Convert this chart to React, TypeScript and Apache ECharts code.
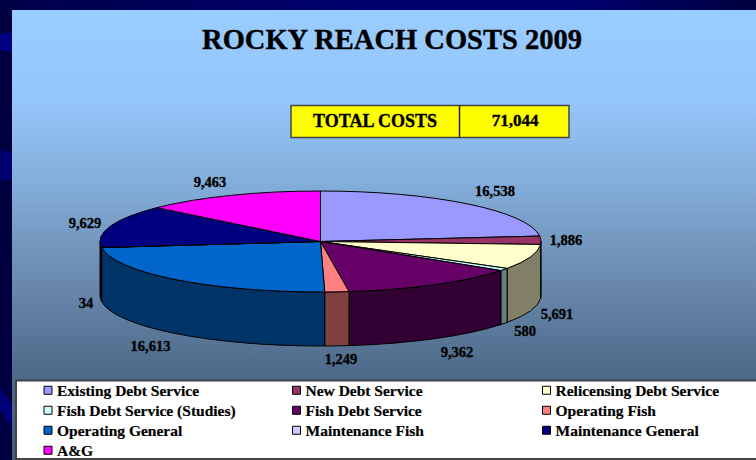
import React, { useEffect, useRef } from "react";
import * as echarts from "echarts";

const titleText = "ROCKY REACH COSTS 2009";
const totalLabel = "TOTAL COSTS";
const totalValue = 71044;

const categories = [
  "Existing Debt Service",
  "New Debt Service",
  "Relicensing Debt Service",
  "Fish Debt Service (Studies)",
  "Fish Debt Service",
  "Operating Fish",
  "Operating General",
  "Maintenance Fish",
  "Maintenance General",
  "A&G",
];
const costs = [16538, 1886, 5691, 580, 9362, 1249, 16613, 34, 9629, 9463];
const topColors = ["#9999FF", "#993366", "#FFFFCC", "#CCFFFF", "#660066", "#FF8080", "#0066CC", "#CCCCFF", "#000080", "#FF00FF"];
const sideColors = ["#4C4C80", "#4C1933", "#808066", "#668080", "#330033", "#804040", "#003366", "#666680", "#000040", "#800080"];
const labelCenters = [
  [495, 191], [566, 239.5], [557, 314], [525, 331], [457, 352],
  [341, 359], [150.5, 346], [86, 303], [85, 223], [210, 182],
];

const legendColumns = [
  [categories[0], categories[3], categories[6], categories[9]],
  [categories[1], categories[4], categories[7]],
  [categories[2], categories[5], categories[8]],
];
const legendLefts = [43.5, 292, 542];

const CX = 320.5, CY = 241.5, RX = 220.5, RY = 50.5, DEPTH = 54;
const SERIF = "'Liberation Serif', 'DejaVu Serif', serif";
const total = costs.reduce((a, b) => a + b, 0);

const pt = (deg: number, dy = 0) => {
  const r = (deg * Math.PI) / 180;
  return [+(CX + RX * Math.sin(r)).toFixed(2), +(CY - RY * Math.cos(r) + dy).toFixed(2)];
};

function slicePaths(i: number) {
  const before = costs.slice(0, i).reduce((a, b) => a + b, 0);
  const t0 = (before / total) * 360;
  const t1 = ((before + costs[i]) / total) * 360;
  const a = pt(t0), b = pt(t1);
  const large = t1 - t0 > 180 ? 1 : 0;
  const top = `M${CX} ${CY}L${a[0]} ${a[1]}A${RX} ${RY} 0 ${large} 1 ${b[0]} ${b[1]}Z`;
  const s = Math.max(t0, 90), e = Math.min(t1, 270);
  let wall: string | null = null;
  if (s < e) {
    const p = pt(s), q = pt(e), q2 = pt(e, DEPTH), p2 = pt(s, DEPTH);
    wall = `M${p[0]} ${p[1]}A${RX} ${RY} 0 0 1 ${q[0]} ${q[1]}L${q2[0]} ${q2[1]}A${RX} ${RY} 0 0 0 ${p2[0]} ${p2[1]}Z`;
  }
  return { top, wall };
}

const fmt = (v: number) => v.toLocaleString("en-US");

export default function App() {
  const ref = useRef<HTMLDivElement>(null);
  useEffect(() => {
    document.body.style.margin = "0";
    const chart = echarts.init(ref.current!, null, { renderer: "svg" });
    const series = categories.map((name, i) => ({
      type: "custom",
      name,
      coordinateSystem: "none",
      itemStyle: { color: topColors[i] },
      data: [costs[i]],
      silent: true,
      renderItem: () => {
        const { top, wall } = slicePaths(i);
        const children: any[] = [];
        if (wall) {
          children.push({
            type: "path",
            z2: 1,
            shape: { pathData: wall },
            style: { fill: sideColors[i], stroke: "#000", lineWidth: 1 },
          });
        }
        children.push({
          type: "path",
          z2: 5,
          shape: { pathData: top },
          style: { fill: topColors[i], stroke: "#000", lineWidth: 1 },
        });
        children.push({
          type: "text",
          z2: 10,
          style: {
            text: fmt(costs[i]),
            x: labelCenters[i][0],
            y: labelCenters[i][1],
            align: "center",
            verticalAlign: "middle",
            fill: "#000",
            stroke: "#000",
            lineWidth: 0.35,
            font: `bold 14.5px ${SERIF}`,
          },
        });
        return { type: "group", children };
      },
    }));

    const poly = (points: number[][], fill: string) => ({
      type: "polygon",
      z: -5,
      silent: true,
      shape: { points },
      style: { fill },
    });

    chart.setOption({
      animation: false,
      backgroundColor: "#000040",
      title: {
        text: titleText,
        left: 392,
        top: 22,
        textAlign: "center",
        padding: 0,
        textStyle: {
          fontFamily: SERIF, fontWeight: "bold", fontSize: 28.5, color: "#000", lineHeight: 34,
          textBorderColor: "#000", textBorderWidth: 0.4,
        },
      },
      legend: legendColumns.map((data, c) => ({
        data,
        orient: "vertical",
        left: legendLefts[c],
        top: 382,
        padding: 0,
        itemGap: 3.5,
        itemWidth: 8,
        itemHeight: 8,
        icon: "rect",
        selectedMode: false,
        itemStyle: { borderColor: "#000", borderWidth: 1 },
        textStyle: {
          fontFamily: SERIF, fontWeight: "bold", fontSize: 15.5, color: "#000", lineHeight: 16.5,
          textBorderColor: "#000", textBorderWidth: 0.2,
        },
      })),
      graphic: [
        {
          type: "rect",
          z: -6,
          silent: true,
          shape: { x: 0, y: 0, width: 756, height: 10 },
          style: {
            fill: new echarts.graphic.LinearGradient(0, 0, 1, 0, [
              { offset: 0, color: "#000048" },
              { offset: 0.5, color: "#000070" },
              { offset: 0.75, color: "#000070" },
              { offset: 1, color: "#000040" },
            ]),
          },
        },
        poly([[0, 34], [12, 33], [12, 52], [0, 50]], "#000080"),
        poly([[0, 150], [12, 153], [12, 180], [0, 180]], "#000070"),
        poly([[0, 388], [12, 405], [12, 428], [0, 410]], "#000078"),
        {
          type: "rect",
          z: -4,
          silent: true,
          shape: { x: 12, y: 10, width: 744, height: 450 },
          style: {
            fill: new echarts.graphic.LinearGradient(0, 0, 0, 1, [
              { offset: 0, color: "#99CCFF" },
              { offset: 0.2, color: "#95C6FB" },
              { offset: 0.37, color: "#85B0DD" },
              { offset: 0.58, color: "#6D8DB2" },
              { offset: 0.8, color: "#4F6B8B" },
              { offset: 1, color: "#445C78" },
            ]),
          },
        },
        {
          type: "rect",
          z: -3,
          silent: true,
          shape: { x: 16, y: 380.5, width: 745, height: 78.5 },
          style: { fill: "#FFFFFF", stroke: "#444444", lineWidth: 2 },
        },
        {
          type: "rect",
          z: 1,
          silent: true,
          shape: { x: 291, y: 105.5, width: 278, height: 32 },
          style: { fill: "#FFFF00", stroke: "#444444", lineWidth: 1.5 },
        },
        {
          type: "line",
          z: 1,
          silent: true,
          shape: { x1: 459.5, y1: 105.5, x2: 459.5, y2: 137.5 },
          style: { stroke: "#222222", lineWidth: 1.5 },
        },
        {
          type: "text",
          z: 2,
          silent: true,
          style: { text: totalLabel, x: 375, y: 120.5, align: "center", verticalAlign: "middle", fill: "#000", stroke: "#000", lineWidth: 0.35, font: `bold 18px ${SERIF}` },
        },
        {
          type: "text",
          z: 2,
          silent: true,
          style: { text: fmt(totalValue), x: 515, y: 120.5, align: "center", verticalAlign: "middle", fill: "#000", stroke: "#000", lineWidth: 0.35, font: `bold 17px ${SERIF}` },
        },
      ],
      series,
    });
    return () => chart.dispose();
  }, []);
  return <div ref={ref} style={{ width: 756, height: 460 }} />;
}
